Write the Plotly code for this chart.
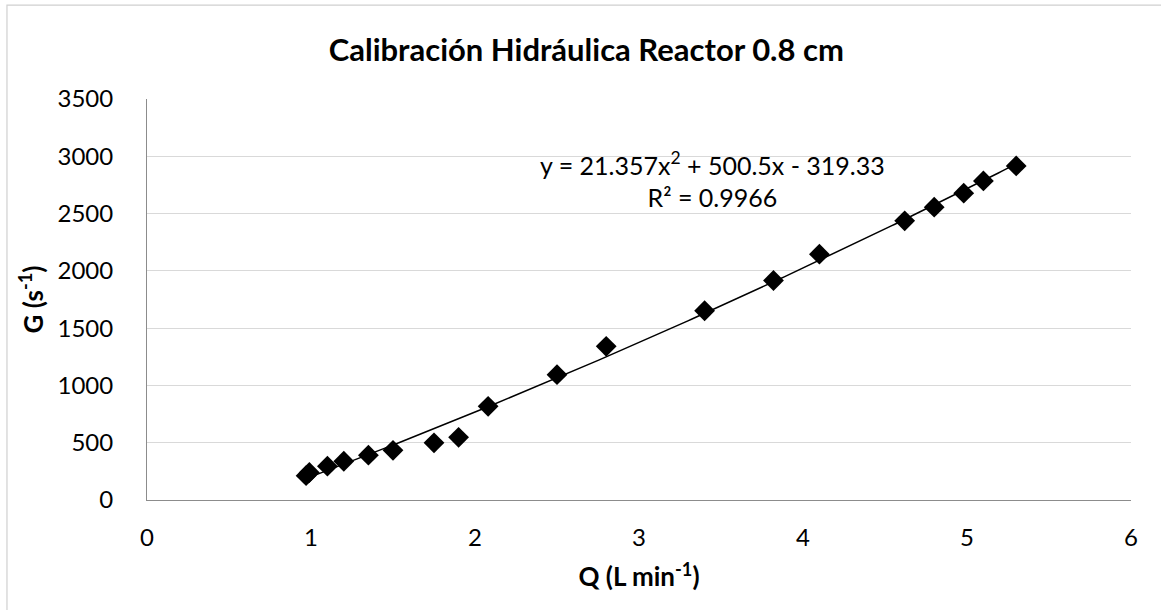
import numpy as np
import plotly.graph_objects as go

# Measured flow rate Q (L/min) and velocity gradient G (1/s)
q_flow = [0.97, 0.99, 1.10, 1.20, 1.35, 1.50, 1.75, 1.90, 2.08, 2.50, 2.80,
          3.40, 3.82, 4.10, 4.62, 4.80, 4.98, 5.10, 5.30]
g_grad = [212, 240, 295, 338, 391, 434, 499, 547, 818, 1094, 1341,
          1652, 1916, 2146, 2437, 2556, 2678, 2785, 2916]

# Second-order polynomial trendline coefficients and goodness of fit
coef_a, coef_b, coef_c = 21.357, 500.5, -319.33
r_squared = 0.9966

x_ticks = [0, 1, 2, 3, 4, 5, 6]
y_ticks = [0, 500, 1000, 1500, 2000, 2500, 3000, 3500]

FONT = "Lato, Carlito, Calibri, sans-serif"

q_fit = np.linspace(min(q_flow), max(q_flow), 200)
g_fit = coef_a * q_fit ** 2 + coef_b * q_fit + coef_c

fig = go.Figure()

fig.add_trace(go.Scatter(
    x=q_fit, y=g_fit, mode="lines",
    line=dict(color="black", width=1.5),
    hoverinfo="skip", showlegend=False,
))

fig.add_trace(go.Scatter(
    x=q_flow, y=g_grad, mode="markers",
    marker=dict(symbol="diamond", size=16, color="black",
                line=dict(width=0)),
    showlegend=False,
))

eq_text = (f"y = {coef_a}x<sup>2</sup> + {coef_b}x - {abs(coef_c)}"
           f"<br>R² = {r_squared}")
fig.add_annotation(
    x=3.45, y=2795, xref="x", yref="y", text=eq_text, showarrow=False,
    font=dict(family=FONT, size=25, color="black"), align="center",
)

# Outer chart frame
fig.add_shape(type="rect", xref="paper", yref="paper",
              x0=-0.1423, x1=1.05, y0=-0.30, y1=1.234,
              line=dict(color="#d0d0d0", width=1.2), layer="below")

fig.update_layout(
    width=1161, height=610,
    margin=dict(l=147, r=30, t=99, b=110),
    paper_bgcolor="white", plot_bgcolor="white",
    font=dict(family=FONT, size=24, color="black"),
    title=dict(text="<b>Calibración Hidráulica Reactor 0.8 cm</b>",
               x=0.505, xref="container", xanchor="center",
               y=0.918, yanchor="middle",
               font=dict(family=FONT, size=31, color="black")),
)

fig.update_xaxes(
    range=[0, 6], tickvals=x_ticks, showgrid=False, zeroline=False,
    showline=True, linecolor="#8c8c8c", linewidth=1,
    ticks="", ticklabelstandoff=16,
    tickfont=dict(family=FONT, size=24),
    title=dict(text="<b>Q (L min<sup>-1</sup>)</b>", standoff=18,
               font=dict(family=FONT, size=26)),
)

fig.update_yaxes(
    range=[0, 3500], tickvals=y_ticks, showgrid=True, gridcolor="#d9d9d9",
    gridwidth=1, zeroline=False, showline=True, linecolor="#8c8c8c",
    linewidth=1, ticks="", ticklabelstandoff=28,
    tickfont=dict(family=FONT, size=24),
    title=dict(text="<b>G (s<sup>-1</sup>)</b>", standoff=6,
               font=dict(family=FONT, size=26)),
)

fig.write_html("out.html")
